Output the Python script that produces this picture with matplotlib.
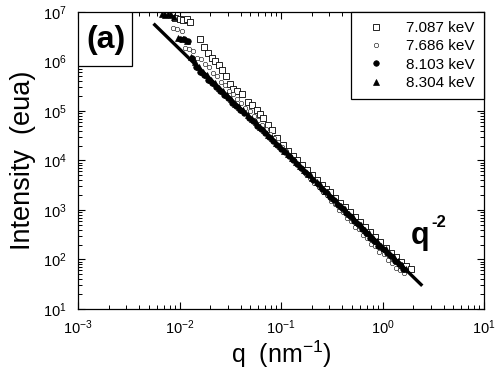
import matplotlib
matplotlib.use("Agg")
import matplotlib.pyplot as plt
from matplotlib.patches import Rectangle
import numpy as np

plt.rcParams['font.family'] = ['Liberation Sans', 'DejaVu Sans']
plt.rcParams['mathtext.fontset'] = 'custom'
plt.rcParams['mathtext.rm'] = 'Liberation Sans'

# values (log10 of q in nm^-1, log10 of intensity)
lq_7087 = [-2.04, -2.00, -1.97, -1.93, -1.90, -1.80, -1.76, -1.72, -1.68, -1.65,
           -1.61, -1.58, -1.54, -1.50, -1.47, -1.43, -1.38, -1.33, -1.29, -1.24,
           -1.21, -1.18, -1.13, -1.09, -1.04, -0.98, -0.93, -0.88, -0.84, -0.79,
           -0.74, -0.69, -0.645, -0.60, -0.56, -0.52, -0.47, -0.42, -0.37, -0.32,
           -0.27, -0.22, -0.17, -0.12, -0.07, -0.02, 0.03, 0.08, 0.13, 0.18, 0.23, 0.28]
lI_7087 = [6.88, 6.86, 6.84, 6.86, 6.80, 6.45, 6.30, 6.17, 6.08, 6.01,
           5.92, 5.83, 5.70, 5.55, 5.44, 5.40, 5.34, 5.18, 5.12, 5.02,
           4.94, 4.86, 4.72, 4.62, 4.46, 4.31, 4.20, 4.08, 4.01, 3.90,
           3.80, 3.70, 3.60, 3.50, 3.43, 3.36, 3.25, 3.15, 3.06, 2.95,
           2.85, 2.76, 2.65, 2.55, 2.45, 2.35, 2.24, 2.14, 2.05, 1.95, 1.86, 1.80]

lq_7686 = [-2.06, -2.02, -1.98, -1.95, -1.91, -1.87, -1.83, -1.79, -1.75, -1.71,
           -1.67, -1.63, -1.59, -1.55, -1.51, -1.47, -1.43, -1.39, -1.35, -1.31,
           -1.27, -1.23, -1.19, -1.15, -1.11, -1.07, -1.03, -0.99, -0.95, -0.91,
           -0.87, -0.83, -0.79, -0.75, -0.71, -0.67, -0.63, -0.59, -0.55, -0.51,
           -0.47, -0.43, -0.39, -0.35, -0.31, -0.27, -0.23, -0.19, -0.15, -0.11,
           -0.07, -0.03, 0.01, 0.05, 0.09, 0.13, 0.17, 0.21]
lI_7686 = [6.68, 6.66, 6.62, 6.28, 6.26, 6.22, 6.07, 6.04, 5.94, 5.88,
           5.76, 5.70, 5.59, 5.52, 5.41, 5.34, 5.24, 5.17, 5.06, 4.99,
           4.89, 4.82, 4.71, 4.64, 4.54, 4.45, 4.37, 4.27, 4.19, 4.09,
           4.00, 3.90, 3.83, 3.72, 3.65, 3.54, 3.47, 3.36, 3.30, 3.18,
           3.12, 3.00, 2.95, 2.83, 2.78, 2.66, 2.61, 2.49, 2.44, 2.32,
           2.27, 2.15, 2.10, 1.98, 1.93, 1.83, 1.78, 1.72]

lq_8103 = [-2.00, -1.96, -1.92, -1.88, -1.84, -1.80, -1.76, -1.72, -1.68, -1.64,
           -1.60, -1.56, -1.52, -1.48, -1.44, -1.40, -1.36, -1.32, -1.28, -1.24,
           -1.20, -1.16, -1.12, -1.08, -1.04, -1.00, -0.96, -0.92, -0.88, -0.84,
           -0.80, -0.76, -0.72, -0.68, -0.64, -0.60, -0.56, -0.52, -0.48, -0.44,
           -0.40, -0.36, -0.32, -0.28, -0.24, -0.20, -0.16, -0.12, -0.08, -0.04,
           0.00, 0.04, 0.08, 0.12, 0.16, 0.20]
lI_8103 = [6.46, 6.46, 6.42, 6.07, 5.89, 5.78, 5.72, 5.63, 5.57, 5.48,
           5.41, 5.32, 5.26, 5.17, 5.10, 5.01, 4.95, 4.86, 4.79, 4.70,
           4.64, 4.55, 4.48, 4.39, 4.32, 4.24, 4.17, 4.08, 4.01, 3.92,
           3.85, 3.76, 3.70, 3.60, 3.53, 3.43, 3.37, 3.27, 3.20, 3.10,
           3.04, 2.94, 2.87, 2.77, 2.71, 2.61, 2.54, 2.44, 2.38, 2.28,
           2.21, 2.12, 2.06, 1.97, 1.90, 1.81]

lq_8304 = [-2.17, -2.14, -2.11, -2.08, -2.05, -2.01, -1.97, -1.93, -1.89, -1.85,
           -1.81, -1.77, -1.73, -1.69, -1.65, -1.61, -1.57, -1.53, -1.49, -1.45,
           -1.41, -1.37, -1.33, -1.29, -1.25, -1.21, -1.17, -1.13, -1.09, -1.05,
           -1.01, -0.97, -0.93, -0.89, -0.85, -0.81, -0.77, -0.73, -0.69, -0.65,
           -0.61, -0.57, -0.53, -0.49, -0.45, -0.41, -0.37, -0.33, -0.29, -0.25,
           -0.21, -0.17, -0.13, -0.09, -0.05, -0.01, 0.03, 0.07, 0.11, 0.15, 0.19, 0.23]
lI_8304 = [6.95, 6.94, 6.96, 6.93, 6.90, 6.48, 6.45, 6.42, 6.09, 5.98,
           5.88, 5.78, 5.72, 5.62, 5.57, 5.47, 5.41, 5.32, 5.25, 5.15,
           5.08, 5.01, 4.91, 4.84, 4.77, 4.68, 4.61, 4.52, 4.45, 4.36,
           4.29, 4.20, 4.13, 4.04, 3.97, 3.88, 3.81, 3.72, 3.65, 3.56,
           3.49, 3.39, 3.33, 3.24, 3.17, 3.07, 3.01, 2.92, 2.85, 2.75,
           2.69, 2.60, 2.53, 2.43, 2.37, 2.28, 2.21, 2.11, 2.05, 1.96, 1.89, 1.80]

# q^-2 guide line end points
fit_q = [0.0057, 2.4]
fit_I = [5.5e6, 31]

fig = plt.figure(figsize=(5, 3.74), dpi=100)
ax = fig.add_axes([0.156, 0.174, 0.812, 0.794])

ax.plot(10 ** np.array(lq_7087), 10 ** np.array(lI_7087), 's', ms=4.5,
        mfc='white', mec='black', mew=0.6, label='7.087 keV')
ax.plot(10 ** np.array(lq_7686), 10 ** np.array(lI_7686), 'o', ms=3.2,
        mfc='white', mec='black', mew=0.4, label='7.686 keV')
ax.plot(10 ** np.array(lq_8103), 10 ** np.array(lI_8103), 'o', ms=4,
        mfc='black', mec='black', mew=0.5, label='8.103 keV')
ax.plot(10 ** np.array(lq_8304), 10 ** np.array(lI_8304), '^', ms=4.5,
        mfc='black', mec='black', mew=0.5, label='8.304 keV')
ax.plot(fit_q, fit_I, '-', color='black', lw=2.4)

ax.set_xscale('log')
ax.set_yscale('log')
ax.set_xlim(1e-3, 1e1)
ax.set_ylim(1e1, 1e7)

ax.tick_params(which='both', direction='in', top=True, right=True,
               labelsize=10.5, colors='black')
ax.tick_params(which='major', length=5, width=0.8)
ax.tick_params(which='minor', length=3, width=0.7)
ax.tick_params(axis='y', pad=8)
ax.tick_params(axis='x', pad=7)
for s in ax.spines.values():
    s.set_linewidth(0.9)

ax.set_xlabel('q  (nm$^{-1}$)', fontsize=18, labelpad=1)
ax.set_ylabel('Intensity  (eua)', fontsize=19.5, labelpad=5)

leg = ax.legend(loc='upper right', borderaxespad=0, fancybox=False,
                edgecolor='black', framealpha=1, fontsize=11,
                handlelength=2.0, handletextpad=1.0, labelspacing=0.28,
                borderpad=0.6)
leg.get_frame().set_linewidth(0.9)

# "(a)" panel tag in a box at the top-left corner
ax.add_patch(Rectangle((0, 0.818), 0.133, 0.182, transform=ax.transAxes,
                       fc='white', ec='black', lw=0.9, zorder=5))
ax.text(0.068, 0.905, '(a)', transform=ax.transAxes, fontsize=23,
        fontweight='bold', ha='center', va='center', zorder=6)

fig.text(0.822, 0.348, 'q', fontsize=22, fontweight='bold')
fig.text(0.862, 0.392, '-2', fontsize=12, fontweight='bold')

fig.savefig('out.png', dpi=100)
